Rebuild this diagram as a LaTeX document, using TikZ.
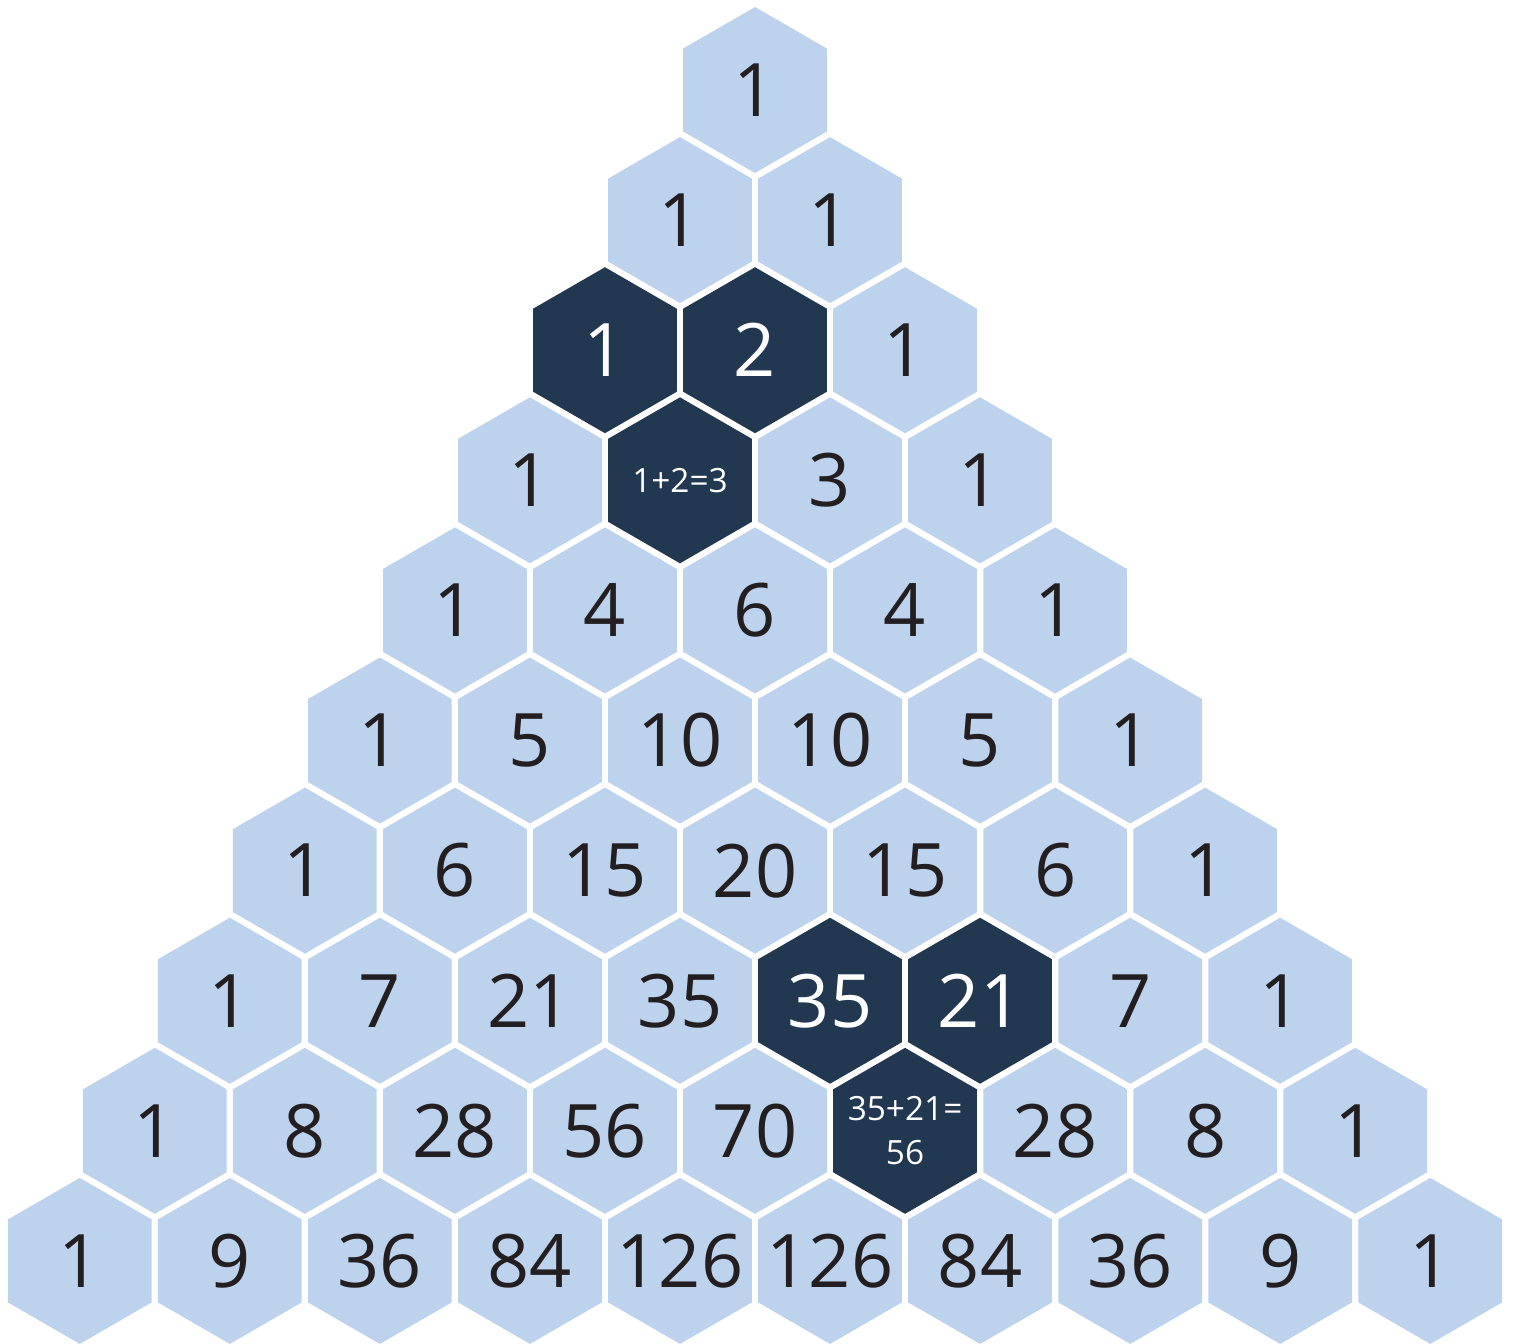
\documentclass[tikz,border=0pt]{standalone}
\usepackage{fontspec}
\setmainfont{Open Sans}
\usetikzlibrary{shapes.geometric}

\definecolor{hexlight}{HTML}{BDD2EC}
\definecolor{hexdark}{HTML}{223750}
\definecolor{numink}{HTML}{231F20}

\tikzset{
  hexcell/.style={regular polygon, regular polygon sides=6, shape border rotate=30,
    minimum size=3.32cm, inner sep=0pt, outer sep=0pt, fill=hexlight},
  darkcell/.style={fill=hexdark},
  numtext/.style={inner sep=0pt, text=numink, font=\fontsize{42}{42}\selectfont},
  darktext/.style={text=white},
  sumtext/.style={text=white, align=center, font=\fontsize{19}{25}\selectfont},
  % highlighted cells
  c2-0/.style={darkcell}, c2-1/.style={darkcell}, c3-1/.style={darkcell},
  c7-4/.style={darkcell}, c7-5/.style={darkcell}, c8-5/.style={darkcell},
  t2-0/.style={darktext}, t2-1/.style={darktext}, t3-1/.style={sumtext},
  t7-4/.style={darktext}, t7-5/.style={darktext}, t8-5/.style={sumtext}
}

\begin{document}
\begin{tikzpicture}[x=0.02cm, y=-0.02cm]
        \useasboundingbox (0,0) rectangle (1513,1343);

        % Draw the rows of the triangle
        \foreach \r/\vals in {0/{1}, 1/{1,1}, 2/{1,2,1}, 3/{1,1+2=3,3,1},
            4/{1,4,6,4,1}, 5/{1,5,10,10,5,1}, 6/{1,6,15,20,15,6,1},
            7/{1,7,21,35,35,21,7,1}, 8/{1,8,28,56,70,{35+21=\\56},28,8,1},
            9/{1,9,36,84,126,126,84,36,9,1}}
        {
            \foreach \v [count=\k from 0] in \vals
            {
                \node[hexcell, c\r-\k/.try] (n\r-\k) at ({755+150.05*(\k-\r/2)}, {90+130.1*\r}) {};
                \node[numtext, t\r-\k/.try] (t\r-\k) at (n\r-\k.center) {\v};
            }
        }
    \end{tikzpicture}
\end{document}
